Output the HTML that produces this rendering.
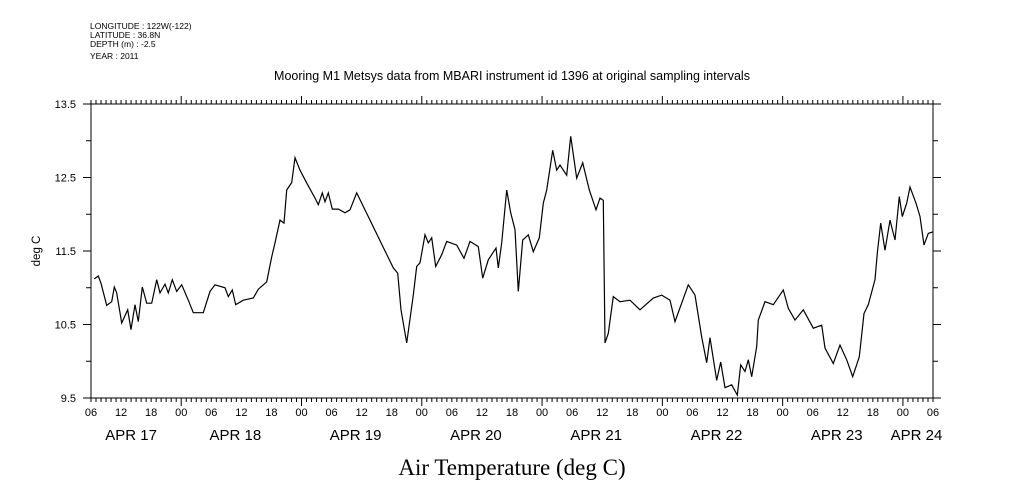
<!DOCTYPE html>
<html><head><meta charset="utf-8"><style>
body{margin:0;background:#fff;}
svg{display:block;font-family:"Liberation Sans",sans-serif;}
</style></head><body>
<svg width="1009" height="504" viewBox="0 0 1009 504">
<g font-size="8.5" fill="#000">
<text x="90" y="29">LONGITUDE : 122W(-122)</text>
<text x="90" y="38">LATITUDE : 36.8N</text>
<text x="90" y="47">DEPTH (m) : -2.5</text>
<text x="90" y="59">YEAR : 2011</text>
</g>
<text x="512" y="80" font-size="12.5" text-anchor="middle">Mooring M1 Metsys data from MBARI instrument id 1396 at original sampling intervals</text>
<text x="40" y="251" font-size="11.5" text-anchor="middle" transform="rotate(-90 40 251)">deg C</text>
<text x="512" y="475" font-size="23" text-anchor="middle" font-family="Liberation Serif, serif">Air Temperature (deg C)</text>
<g id="axes"></g>
<g id="series"></g>
</svg>
<script>
const hours=[0.66,1.46,2.0,3.13,4.13,4.65,5.13,6.13,7.32,7.98,8.78,9.44,10.24,11.11,12.11,13.11,13.77,14.76,15.42,16.22,17.1,18.1,19.41,20.41,22.41,23.74,24.74,26.74,27.39,28.19,28.87,30.39,32.38,33.38,35.06,36.05,36.71,37.71,38.51,39.05,40.04,40.7,41.7,43.24,44.69,45.35,46.15,46.69,47.35,48.14,49.34,50.68,51.68,53.01,60.32,61.19,61.85,62.99,64.31,64.98,65.64,66.64,67.3,67.98,68.78,69.97,70.97,72.96,74.42,75.62,77.27,78.15,79.27,80.81,81.27,81.94,82.94,83.74,84.6,85.26,86.13,87.25,88.25,89.45,90.24,90.92,92.12,92.92,93.58,94.91,95.71,96.91,98.11,99.42,100.76,101.56,102.21,102.55,103.21,104.21,105.55,107.54,109.54,112.19,113.87,115.52,116.52,119.17,120.51,121.85,122.84,123.5,124.84,125.64,126.5,127.83,128.95,129.63,130.49,131.15,131.82,132.82,133.14,134.48,136.13,138.13,139.13,140.46,142.12,144.11,145.79,146.45,148.1,149.44,150.78,151.97,153.29,154.23,155.09,156.42,156.88,157.56,158.42,159.42,160.42,161.27,161.87,162.75,163.41,164.6,165.4,166.2,167.06,167.94];
const temps=[11.12,11.16,11.06,10.76,10.81,11.01,10.93,10.52,10.7,10.43,10.77,10.54,11.01,10.79,10.79,11.11,10.93,11.05,10.93,11.11,10.95,11.04,10.83,10.66,10.66,10.95,11.04,11.0,10.88,10.97,10.77,10.83,10.86,10.98,11.08,11.42,11.61,11.92,11.88,12.33,12.43,12.77,12.6,12.4,12.22,12.13,12.29,12.17,12.29,12.07,12.07,12.02,12.06,12.29,11.27,11.2,10.7,10.25,10.9,11.29,11.34,11.72,11.61,11.68,11.29,11.45,11.63,11.58,11.4,11.63,11.56,11.13,11.38,11.54,11.27,11.61,12.33,12.02,11.79,10.95,11.65,11.72,11.49,11.68,12.15,12.33,12.87,12.6,12.67,12.53,13.06,12.49,12.7,12.33,12.06,12.22,12.19,10.25,10.38,10.88,10.81,10.83,10.7,10.86,10.9,10.83,10.54,11.04,10.9,10.33,9.98,10.32,9.74,9.99,9.64,9.68,9.54,9.95,9.86,10.02,9.79,10.2,10.56,10.81,10.77,10.97,10.72,10.56,10.7,10.45,10.49,10.18,9.97,10.22,10.02,9.79,10.06,10.65,10.77,11.11,11.47,11.88,11.51,11.92,11.65,12.24,11.97,12.15,12.37,12.15,11.97,11.58,11.74,11.76];
const yTickLabels=["13.5","12.5","11.5","10.5","9.5"];
const xTickLabels=["06","12","18","00"];
const dateLabels=["APR 17","APR 18","APR 19","APR 20","APR 21","APR 22","APR 23","APR 24"];
const dateHours=[8,28.8,52.8,76.8,100.8,124.8,148.8,164.7];
const X0=91,X1=933,Y0=104,Y1=398,HMAX=168,TMIN=9.5,TMAX=13.5;
function xs(h){return X0+(h/HMAX)*(X1-X0);}
function ys(t){return Y1-(t-TMIN)/(TMAX-TMIN)*(Y1-Y0);}
const NS="http://www.w3.org/2000/svg";
const ax=document.getElementById('axes');
function mk(tag,attrs,parent){const e=document.createElementNS(NS,tag);for(const k in attrs)e.setAttribute(k,attrs[k]);parent.appendChild(e);return e;}
const frame=mk('rect',{x:X0,y:Y0,width:X1-X0,height:Y1-Y0,fill:'none',stroke:'#000','stroke-width':1},ax);


for(let h=0;h<=HMAX;h++){
  const x=xs(h);const major=(h%24)===18;const len=major?8:4;
  const t1=mk('line',{x1:x,x2:x,y1:Y1,y2:Y1+len,stroke:'#000'},ax);
  
  
  const t2=mk('line',{x1:x,x2:x,y1:Y0,y2:Y0-len,stroke:'#000'},ax);
  
  
  if(h%6===0){
    const lt=mk('text',{x:x,y:416,'font-size':11,'text-anchor':'middle'},ax);
    lt.textContent=xTickLabels[(h/6)%4];
    
    
  }
}
dateLabels.forEach((d,i)=>{
  const t=mk('text',{x:xs(dateHours[i]),y:440,'font-size':15,'text-anchor':'middle'},ax);
  t.textContent=d;
  
  
});
for(let v=TMIN;v<=TMAX+0.001;v+=0.5){
  const y=ys(v);const major=Math.abs((v*2)%2-1)<0.01;const len=major?8:5;
  const l1=mk('line',{x1:X0-len,x2:X0,y1:y,y2:y,stroke:'#000'},ax);
  
  
  const l2=mk('line',{x1:X1,x2:X1+len,y1:y,y2:y,stroke:'#000'},ax);
  
  
}
yTickLabels.forEach(s=>{
  const t=mk('text',{x:76,y:ys(parseFloat(s))+4,'font-size':11,'text-anchor':'end'},ax);
  t.textContent=s;
  
  
});
const pts=hours.map((h,i)=>xs(h).toFixed(1)+','+ys(temps[i]).toFixed(1)).join(' ');
const pl=mk('polyline',{points:pts,fill:'none',stroke:'#000','stroke-width':1.2},document.getElementById('series'));


</script>
</body></html>
